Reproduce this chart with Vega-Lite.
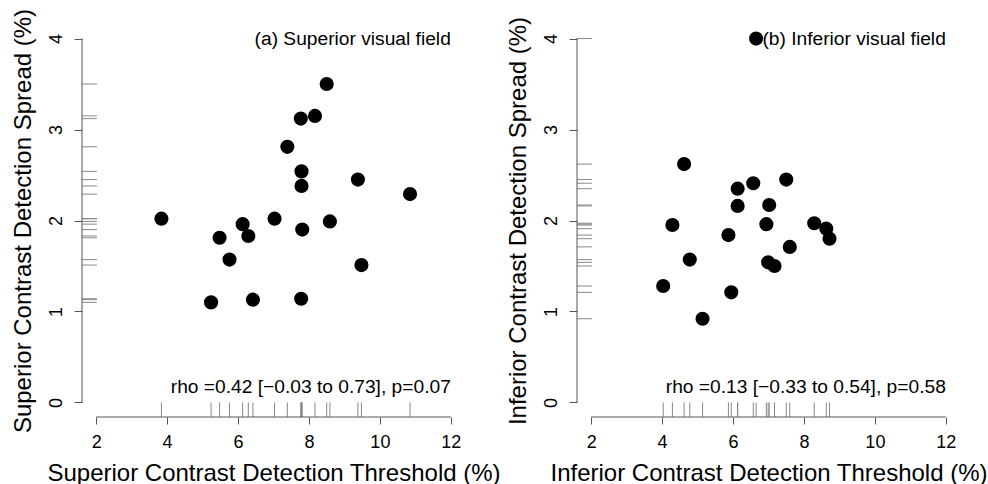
{
  "$schema": "https://vega.github.io/schema/vega-lite/v6.json",
  "background": "white",
  "padding": {"left": 10, "top": 8, "right": 5, "bottom": 5},
  "config": {
    "view": {"stroke": null},
    "font": "Liberation Sans",
    "axis": {
      "labelFont": "Liberation Sans",
      "titleFont": "Liberation Sans",
      "labelColor": "black",
      "titleColor": "black",
      "titleFontWeight": "normal",
      "tickColor": "#555555",
      "tickWidth": 1,
      "domain": false,
      "grid": false,
      "labelFontSize": 18,
      "titleFontSize": 24,
      "format": "d"
    },
    "axisX": {"tickSize": 7, "labelPadding": 9, "titlePadding": 10},
    "axisY": {"tickSize": 8, "labelAngle": -90, "labelAlign": "center", "labelBaseline": "middle", "labelPadding": 18, "titleAngle": -90, "titleAlign": "center", "titleBaseline": "alphabetic", "titleX": -52, "titleY": 196.5}
  },
  "datasets": {
    "sup": [
      {"x": 3.84, "y": 2.02}, {"x": 5.48, "y": 1.81}, {"x": 6.13, "y": 1.96}, {"x": 6.29, "y": 1.83},
      {"x": 7.03, "y": 2.02}, {"x": 7.39, "y": 2.81}, {"x": 7.77, "y": 3.12}, {"x": 8.17, "y": 3.15},
      {"x": 8.50, "y": 3.50}, {"x": 7.79, "y": 2.54}, {"x": 7.79, "y": 2.38}, {"x": 9.38, "y": 2.45},
      {"x": 10.85, "y": 2.29}, {"x": 7.81, "y": 1.90}, {"x": 8.59, "y": 1.99}, {"x": 5.76, "y": 1.57},
      {"x": 9.48, "y": 1.51}, {"x": 5.24, "y": 1.10}, {"x": 6.42, "y": 1.13}, {"x": 7.78, "y": 1.14}
    ],
    "inf": [
      {"x": 4.62, "y": 2.62}, {"x": 4.29, "y": 1.95}, {"x": 6.13, "y": 2.35}, {"x": 6.13, "y": 2.16},
      {"x": 6.57, "y": 2.41}, {"x": 7.50, "y": 2.45}, {"x": 7.02, "y": 2.17}, {"x": 6.94, "y": 1.96},
      {"x": 5.87, "y": 1.84}, {"x": 8.29, "y": 1.97}, {"x": 8.63, "y": 1.91}, {"x": 8.72, "y": 1.80},
      {"x": 7.60, "y": 1.71}, {"x": 4.78, "y": 1.57}, {"x": 6.99, "y": 1.54}, {"x": 7.17, "y": 1.50},
      {"x": 4.03, "y": 1.28}, {"x": 5.95, "y": 1.21}, {"x": 5.14, "y": 0.92}, {"x": 6.65, "y": 4.00}
    ],
    "one": [{}]
  },
  "spacing": 112,
  "bounds": "flush",
  "hconcat": [
    {
      "width": 383,
      "height": 393,
      "layer": [
        {
          "data": {"name": "sup"},
          "mark": {"type": "point", "filled": true, "shape": "circle", "size": 200, "color": "black", "opacity": 1},
          "encoding": {
            "x": {"field": "x", "type": "quantitative", "scale": {"domain": [1.6, 12.4], "nice": false, "zero": false}, "axis": {"values": [2, 4, 6, 8, 10, 12], "title": "Superior Contrast Detection Threshold (%)"}},
            "y": {"field": "y", "type": "quantitative", "scale": {"domain": [-0.16, 4.16], "nice": false, "zero": false}, "axis": {"values": [0, 1, 2, 3, 4], "title": "Superior Contrast Detection Spread (%)"}}
          }
        },
        {
          "data": {"name": "sup"},
          "mark": {"type": "rule", "color": "#888888", "strokeWidth": 1},
          "encoding": {
            "x": {"field": "x", "type": "quantitative"},
            "y": {"datum": -0.16},
            "y2": {"datum": 0}
          }
        },
        {
          "data": {"name": "sup"},
          "mark": {"type": "rule", "color": "#888888", "strokeWidth": 1},
          "encoding": {
            "y": {"field": "y", "type": "quantitative"},
            "x": {"datum": 1.6},
            "x2": {"datum": 2.02}
          }
        },
        {
          "data": {"name": "one"},
          "mark": {"type": "rule", "color": "#555555", "strokeWidth": 1},
          "encoding": {"x": {"datum": 2}, "x2": {"datum": 12}, "y": {"datum": -0.16}}
        },
        {
          "data": {"name": "one"},
          "mark": {"type": "rule", "color": "#555555", "strokeWidth": 1},
          "encoding": {"y": {"datum": 0}, "y2": {"datum": 4}, "x": {"datum": 1.6}}
        },
        {
          "data": {"name": "one"},
          "mark": {"type": "text", "align": "right", "baseline": "middle", "fontSize": 19.2, "font": "Liberation Sans", "color": "black"},
          "encoding": {"x": {"datum": 12}, "y": {"datum": 4}, "text": {"value": "(a) Superior visual field"}}
        },
        {
          "data": {"name": "one"},
          "mark": {"type": "text", "align": "right", "baseline": "middle", "fontSize": 19.2, "font": "Liberation Sans", "color": "black"},
          "encoding": {"x": {"datum": 12}, "y": {"datum": 0.17}, "text": {"value": "rho =0.42 [\u22120.03 to 0.73], p=0.07"}}
        }
      ]
    },
    {
      "width": 383,
      "height": 393,
      "layer": [
        {
          "data": {"name": "inf"},
          "mark": {"type": "point", "filled": true, "shape": "circle", "size": 200, "color": "black", "opacity": 1},
          "encoding": {
            "x": {"field": "x", "type": "quantitative", "scale": {"domain": [1.6, 12.4], "nice": false, "zero": false}, "axis": {"values": [2, 4, 6, 8, 10, 12], "title": "Inferior Contrast Detection Threshold (%)"}},
            "y": {"field": "y", "type": "quantitative", "scale": {"domain": [-0.16, 4.16], "nice": false, "zero": false}, "axis": {"values": [0, 1, 2, 3, 4], "title": "Inferior Contrast Detection Spread (%)"}}
          }
        },
        {
          "data": {"name": "inf"},
          "mark": {"type": "rule", "color": "#888888", "strokeWidth": 1},
          "encoding": {
            "x": {"field": "x", "type": "quantitative"},
            "y": {"datum": -0.16},
            "y2": {"datum": 0}
          }
        },
        {
          "data": {"name": "inf"},
          "mark": {"type": "rule", "color": "#888888", "strokeWidth": 1},
          "encoding": {
            "y": {"field": "y", "type": "quantitative"},
            "x": {"datum": 1.6},
            "x2": {"datum": 2.02}
          }
        },
        {
          "data": {"name": "one"},
          "mark": {"type": "rule", "color": "#555555", "strokeWidth": 1},
          "encoding": {"x": {"datum": 2}, "x2": {"datum": 12}, "y": {"datum": -0.16}}
        },
        {
          "data": {"name": "one"},
          "mark": {"type": "rule", "color": "#555555", "strokeWidth": 1},
          "encoding": {"y": {"datum": 0}, "y2": {"datum": 4}, "x": {"datum": 1.6}}
        },
        {
          "data": {"name": "one"},
          "mark": {"type": "text", "align": "right", "baseline": "middle", "fontSize": 19.2, "font": "Liberation Sans", "color": "black"},
          "encoding": {"x": {"datum": 12}, "y": {"datum": 4}, "text": {"value": "(b) Inferior visual field"}}
        },
        {
          "data": {"name": "one"},
          "mark": {"type": "text", "align": "right", "baseline": "middle", "fontSize": 19.2, "font": "Liberation Sans", "color": "black"},
          "encoding": {"x": {"datum": 12}, "y": {"datum": 0.17}, "text": {"value": "rho =0.13 [\u22120.33 to 0.54], p=0.58"}}
        }
      ]
    }
  ]
}
